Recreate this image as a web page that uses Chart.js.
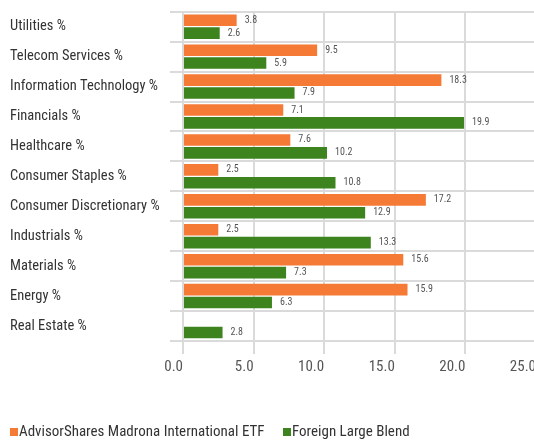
<!DOCTYPE html>
<html>
<head>
<meta charset="utf-8">
<script src="https://cdn.jsdelivr.net/npm/chart.js@4/dist/chart.umd.min.js"></script>
<style>
  html, body { margin: 0; padding: 0; background: #fff; overflow: hidden; }
  #wrap { width: 534px; height: 440px; position: relative; overflow: hidden; }
</style>
</head>
<body>
<div id="wrap"><canvas id="c" width="540" height="440"></canvas></div>
<script>
const categories = ["Utilities %", "Telecom Services %", "Information Technology %", "Financials %", "Healthcare %", "Consumer Staples %", "Consumer Discretionary %", "Industrials %", "Materials %", "Energy %", "Real Estate %"];
const fundValues = [3.8, 9.5, 18.3, 7.1, 7.6, 2.5, 17.2, 2.5, 15.6, 15.9, null];
const categoryValues = [2.6, 5.9, 7.9, 19.9, 10.2, 10.8, 12.9, 13.3, 7.3, 6.3, 2.8];
const seriesNames = ["AdvisorShares Madrona International ETF", "Foreign Large Blend"];
const seriesColors = ["#F47A36", "#3D831E"];
const xTicks = [0, 5, 10, 15, 20, 25];

const FONT = "'Liberation Sans Narrow', 'Roboto Condensed', 'Liberation Sans', Arial, sans-serif";

const valueLabels = {
  id: 'valueLabels',
  afterDatasetsDraw(chart) {
    const ctx = chart.ctx;
    ctx.save();
    ctx.font = "10px " + FONT;
    ctx.fillStyle = "#555555";
    ctx.textAlign = "left";
    ctx.textBaseline = "middle";
    chart.data.datasets.forEach((ds, di) => {
      const meta = chart.getDatasetMeta(di);
      meta.data.forEach((bar, i) => {
        const v = ds.data[i];
        if (v === null || v === undefined) return;
        ctx.fillText(v.toFixed(1), bar.x + 8, bar.y);
      });
    });
    ctx.restore();
  }
};

const bottomLegend = {
  id: 'bottomLegend',
  afterDraw(chart) {
    const ctx = chart.ctx;
    ctx.save();
    ctx.font = "15px " + FONT;
    ctx.textBaseline = "middle";
    ctx.textAlign = "left";
    const y = 432;
    const starts = [10, 283];
    chart.data.datasets.forEach((ds, di) => {
      const x = starts[di];
      ctx.fillStyle = ds.backgroundColor;
      ctx.fillRect(x, y - 4, 8, 8);
      ctx.fillStyle = "#333333";
      ctx.fillText(ds.label, x + 9, y);
    });
    ctx.restore();
  }
};

new Chart(document.getElementById('c'), {
  type: 'bar',
  data: {
    labels: categories,
    datasets: [
      { label: seriesNames[0], data: fundValues, backgroundColor: seriesColors[0], categoryPercentage: 0.86, barPercentage: 0.9 },
      { label: seriesNames[1], data: categoryValues, backgroundColor: seriesColors[1], categoryPercentage: 0.86, barPercentage: 0.9 }
    ]
  },
  options: {
    indexAxis: 'y',
    responsive: false,
    animation: false,
    devicePixelRatio: 1,
    layout: { padding: { left: 10, right: 0, top: 7, bottom: 64 } },
    scales: {
      x: {
        min: 0, max: 25,
        afterBuildTicks(scale) { scale.ticks = xTicks.map(v => ({ value: v })); },
        afterFit(scale) { scale.height = 35; },
        grid: { color: '#DADADA', lineWidth: 2, tickLength: 13, drawTicks: true },
        border: { display: false },
        ticks: {
          align: 'end',
          padding: 4,
          color: '#555555',
          font: { family: FONT, size: 15 },
          callback: v => Number(v).toFixed(1)
        }
      },
      y: {
        grid: { color: '#DADADA', lineWidth: 2, tickLength: 13, offset: true },
        border: { display: false },
        afterFit(scale) { scale.width = 173; },
        ticks: {
          crossAlign: 'far',
          color: '#333333',
          font: { family: FONT, size: 14.5 }
        }
      }
    },
    plugins: {
      legend: { display: false },
      tooltip: { enabled: false }
    }
  },
  plugins: [valueLabels, bottomLegend]
});
</script>
</body>
</html>
